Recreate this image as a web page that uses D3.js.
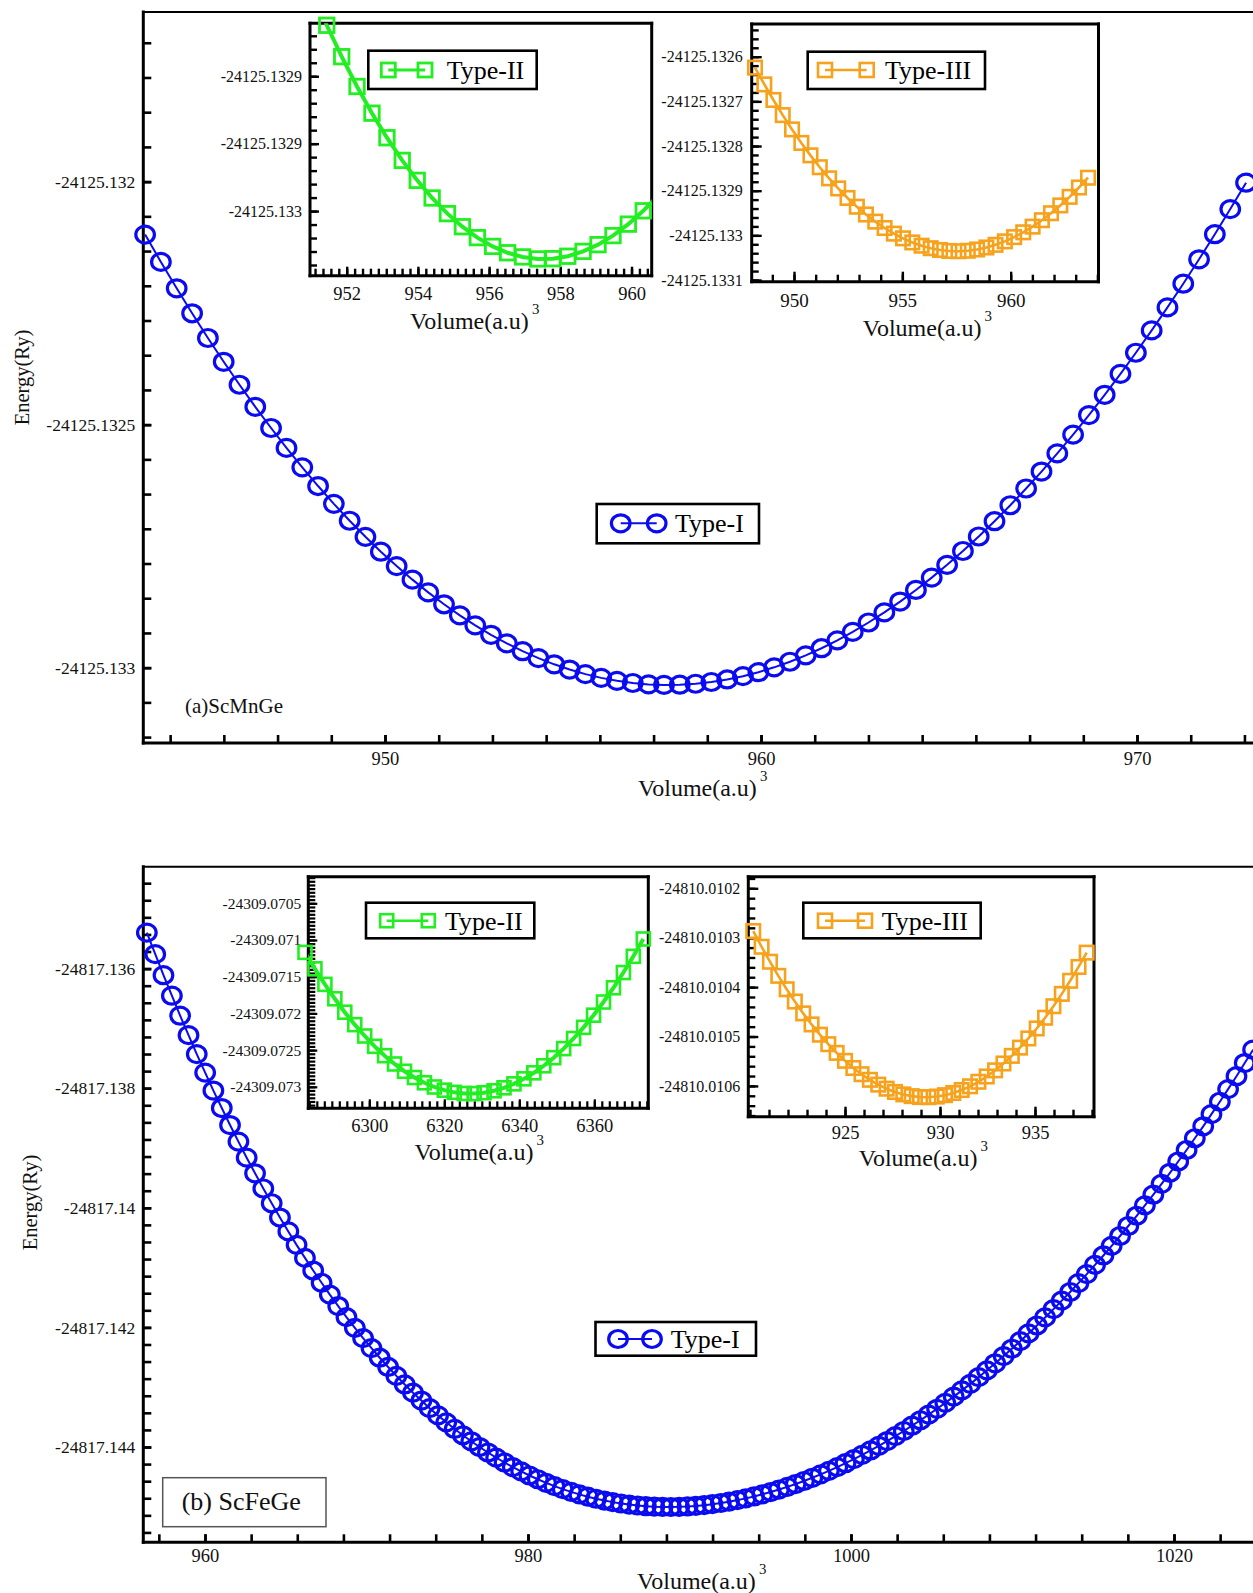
<!DOCTYPE html>
<html><head><meta charset="utf-8">
<script src="https://cdn.jsdelivr.net/npm/d3@7"></script>
<style>body{margin:0;background:#fff}svg{display:block}</style>
</head><body><svg id="c" width="1253" height="1593"></svg>
<script>
// ---------------- DATA ----------------
// (a) ScMnGe  main curve Type-I
const aTypeI_V = [943.62,944.04,944.46,944.87,945.29,945.71,946.13,946.55,946.97,947.38,947.80,948.22,948.64,949.06,949.48,949.89,950.31,950.73,951.15,951.57,951.99,952.40,952.82,953.24,953.66,954.08,954.50,954.91,955.33,955.75,956.17,956.59,957.01,957.42,957.84,958.26,958.68,959.10,959.52,959.93,960.35,960.77,961.19,961.61,962.03,962.44,962.86,963.28,963.70,964.12,964.54,964.95,965.37,965.79,966.21,966.63,967.05,967.46,967.88,968.30,968.72,969.14,969.56,969.97,970.39,970.81,971.23,971.65,972.07,972.48,972.90];
const aTypeI_E = [-24125.1321090,-24125.1321652,-24125.1322195,-24125.1322709,-24125.1323217,-24125.1323707,-24125.1324179,-24125.1324633,-24125.1325069,-24125.1325478,-24125.1325879,-24125.1326263,-24125.1326629,-24125.1326977,-24125.1327308,-24125.1327614,-24125.1327910,-24125.1328189,-24125.1328451,-24125.1328696,-24125.1328924,-24125.1329129,-24125.1329324,-24125.1329501,-24125.1329661,-24125.1329804,-24125.1329931,-24125.1330039,-24125.1330133,-24125.1330210,-24125.1330271,-24125.1330316,-24125.1330344,-24125.1330355,-24125.1330351,-24125.1330331,-24125.1330295,-24125.1330243,-24125.1330175,-24125.1330093,-24125.1329993,-24125.1329878,-24125.1329747,-24125.1329600,-24125.1329438,-24125.1329264,-24125.1329071,-24125.1328863,-24125.1328640,-24125.1328401,-24125.1328147,-24125.1327884,-24125.1327600,-24125.1327301,-24125.1326987,-24125.1326658,-24125.1326314,-24125.1325965,-24125.1325592,-24125.1325205,-24125.1324803,-24125.1324386,-24125.1323955,-24125.1323521,-24125.1323061,-24125.1322588,-24125.1322100,-24125.1321598,-24125.1321082,-24125.1320565,-24125.1320022];
// (a) inset Type-II
const aTypeII_V = [951.02,951.44,951.86,952.29,952.71,953.13,953.56,953.98,954.40,954.83,955.25,955.67,956.10,956.52,956.94,957.37,957.79,958.21,958.64,959.06,959.48,959.91,960.33,960.75];
const aTypeII_E = [-24125.1328372,-24125.1328622,-24125.1328855,-24125.1329076,-24125.1329274,-24125.1329456,-24125.1329624,-24125.1329772,-24125.1329903,-24125.1330019,-24125.1330116,-24125.1330197,-24125.1330262,-24125.1330309,-24125.1330340,-24125.1330355,-24125.1330353,-24125.1330335,-24125.1330299,-24125.1330249,-24125.1330182,-24125.1330097,-24125.1329998,-24125.1329884];
// (a) inset Type-III
const aTypeIII_V = [948.20,948.63,949.05,949.48,949.91,950.34,950.76,951.19,951.62,952.04,952.47,952.90,953.32,953.75,954.18,954.61,955.03,955.46,955.89,956.31,956.74,957.17,957.59,958.02,958.45,958.88,959.30,959.73,960.16,960.58,961.01,961.44,961.86,962.29,962.72,963.15,963.57];
const aTypeIII_E = [-24125.1326245,-24125.1326620,-24125.1326969,-24125.1327308,-24125.1327628,-24125.1327931,-24125.1328209,-24125.1328475,-24125.1328724,-24125.1328950,-24125.1329163,-24125.1329359,-24125.1329533,-24125.1329693,-24125.1329836,-24125.1329962,-24125.1330067,-24125.1330159,-24125.1330232,-24125.1330288,-24125.1330328,-24125.1330350,-24125.1330356,-24125.1330345,-24125.1330317,-24125.1330272,-24125.1330212,-24125.1330135,-24125.1330040,-24125.1329932,-24125.1329805,-24125.1329661,-24125.1329505,-24125.1329330,-24125.1329138,-24125.1328929,-24125.1328710];
// (b) ScFeGe main curve Type-I
const bTypeI_V = [956.40,956.92,957.43,957.95,958.46,958.98,959.49,960.01,960.52,961.04,961.55,962.07,962.58,963.10,963.61,964.13,964.64,965.16,965.67,966.19,966.70,967.22,967.73,968.25,968.76,969.28,969.79,970.31,970.82,971.34,971.85,972.37,972.88,973.40,973.91,974.43,974.94,975.46,975.97,976.49,977.00,977.52,978.03,978.55,979.06,979.58,980.09,980.61,981.12,981.64,982.15,982.67,983.18,983.70,984.21,984.73,985.24,985.76,986.27,986.79,987.30,987.82,988.33,988.85,989.36,989.88,990.39,990.91,991.42,991.94,992.45,992.97,993.48,994.00,994.51,995.03,995.54,996.06,996.57,997.09,997.60,998.12,998.63,999.15,999.66,1000.18,1000.69,1001.21,1001.72,1002.24,1002.75,1003.27,1003.78,1004.30,1004.81,1005.33,1005.84,1006.36,1006.87,1007.39,1007.90,1008.42,1008.93,1009.45,1009.96,1010.48,1010.99,1011.51,1012.02,1012.54,1013.05,1013.57,1014.08,1014.60,1015.11,1015.63,1016.14,1016.66,1017.17,1017.69,1018.20,1018.72,1019.23,1019.75,1020.26,1020.78,1021.29,1021.81,1022.32,1022.84,1023.35,1023.87,1024.38,1024.90];
const bTypeI_E = [-24817.1353977,-24817.1357586,-24817.1361104,-24817.1364531,-24817.1367875,-24817.1371130,-24817.1374302,-24817.1377389,-24817.1380394,-24817.1383318,-24817.1386164,-24817.1388930,-24817.1391619,-24817.1394232,-24817.1396771,-24817.1399235,-24817.1401627,-24817.1403947,-24817.1406197,-24817.1408378,-24817.1410491,-24817.1412537,-24817.1414517,-24817.1416432,-24817.1418283,-24817.1420072,-24817.1421798,-24817.1423464,-24817.1425070,-24817.1426617,-24817.1428106,-24817.1429538,-24817.1430914,-24817.1432234,-24817.1433501,-24817.1434714,-24817.1435874,-24817.1436982,-24817.1438040,-24817.1439048,-24817.1440006,-24817.1440916,-24817.1441778,-24817.1442592,-24817.1443361,-24817.1444084,-24817.1444762,-24817.1445396,-24817.1445986,-24817.1446533,-24817.1447039,-24817.1447502,-24817.1447925,-24817.1448307,-24817.1448650,-24817.1448953,-24817.1449218,-24817.1449445,-24817.1449634,-24817.1449785,-24817.1449901,-24817.1449980,-24817.1450023,-24817.1450032,-24817.1450005,-24817.1449945,-24817.1449850,-24817.1449722,-24817.1449560,-24817.1449366,-24817.1449139,-24817.1448880,-24817.1448589,-24817.1448267,-24817.1447913,-24817.1447529,-24817.1447114,-24817.1446668,-24817.1446192,-24817.1445686,-24817.1445150,-24817.1444584,-24817.1443989,-24817.1443364,-24817.1442711,-24817.1442027,-24817.1441316,-24817.1440575,-24817.1439805,-24817.1439006,-24817.1438180,-24817.1437323,-24817.1436439,-24817.1435525,-24817.1434583,-24817.1433612,-24817.1432612,-24817.1431583,-24817.1430526,-24817.1429439,-24817.1428323,-24817.1427178,-24817.1426004,-24817.1424800,-24817.1423566,-24817.1422303,-24817.1421008,-24817.1419685,-24817.1418330,-24817.1416945,-24817.1415528,-24817.1414080,-24817.1412601,-24817.1411090,-24817.1409546,-24817.1407970,-24817.1406361,-24817.1404718,-24817.1403042,-24817.1401332,-24817.1399588,-24817.1397808,-24817.1395995,-24817.1394144,-24817.1392258,-24817.1390332,-24817.1388371,-24817.1386374,-24817.1384341,-24817.1382265,-24817.1380152,-24817.1377994,-24817.1375797,-24817.1373561];
// (b) inset Type-II
const bTypeII_V = [6282.85,6285.50,6288.16,6290.81,6293.46,6296.12,6298.77,6301.42,6304.08,6306.73,6309.39,6312.04,6314.69,6317.35,6320.00,6322.65,6325.31,6327.96,6330.61,6333.27,6335.92,6338.57,6341.23,6343.88,6346.53,6349.19,6351.84,6354.49,6357.15,6359.80,6362.45,6365.11,6367.76,6370.41,6373.07];
const bTypeII_E = [-24309.0711686,-24309.0713930,-24309.0716044,-24309.0718009,-24309.0719836,-24309.0721530,-24309.0723079,-24309.0724487,-24309.0725762,-24309.0726892,-24309.0727887,-24309.0728738,-24309.0729451,-24309.0730026,-24309.0730460,-24309.0730755,-24309.0730911,-24309.0730927,-24309.0730804,-24309.0730540,-24309.0730138,-24309.0729597,-24309.0728915,-24309.0728095,-24309.0727136,-24309.0726034,-24309.0724797,-24309.0723420,-24309.0721899,-24309.0720244,-24309.0718449,-24309.0716508,-24309.0714435,-24309.0712224,-24309.0709863];
// (b) inset Type-III
const bTypeIII_V = [920.17,920.61,921.05,921.49,921.93,922.36,922.80,923.24,923.68,924.12,924.56,925.00,925.44,925.87,926.31,926.75,927.19,927.63,928.07,928.51,928.95,929.39,929.83,930.26,930.70,931.14,931.58,932.02,932.46,932.90,933.34,933.78,934.21,934.65,935.09,935.53,935.97,936.41,936.85,937.29,937.72];
const bTypeIII_E = [-24810.0102865,-24810.0103183,-24810.0103486,-24810.0103772,-24810.0104043,-24810.0104292,-24810.0104532,-24810.0104755,-24810.0104963,-24810.0105155,-24810.0105331,-24810.0105492,-24810.0105637,-24810.0105763,-24810.0105876,-24810.0105974,-24810.0106056,-24810.0106122,-24810.0106172,-24810.0106207,-24810.0106225,-24810.0106228,-24810.0106215,-24810.0106187,-24810.0106143,-24810.0106083,-24810.0106008,-24810.0105916,-24810.0105809,-24810.0105685,-24810.0105546,-24810.0105392,-24810.0105225,-24810.0105039,-24810.0104837,-24810.0104620,-24810.0104387,-24810.0104137,-24810.0103872,-24810.0103592,-24810.0103302];

// tick values and labels
const aMainXTicks = [950, 960, 970];
const aMainYTicks = [-24125.132, -24125.1325, -24125.133];
const aMainYLabels = ["-24125.132", "-24125.1325", "-24125.133"];
const aIn2XTicks = [952, 954, 956, 958, 960];
const aIn2YTicks = [-24125.1329, -24125.13295, -24125.133];
const aIn2YLabels = ["-24125.1329", "-24125.1329", "-24125.133"];
const aIn3XTicks = [950, 955, 960];
const aIn3YTicks = [-24125.1326, -24125.1327, -24125.1328, -24125.1329, -24125.133, -24125.1331];
const aIn3YLabels = ["-24125.1326", "-24125.1327", "-24125.1328", "-24125.1329", "-24125.133", "-24125.1331"];
const bMainXTicks = [960, 980, 1000, 1020];
const bMainYTicks = [-24817.136, -24817.138, -24817.14, -24817.142, -24817.144];
const bMainYLabels = ["-24817.136", "-24817.138", "-24817.14", "-24817.142", "-24817.144"];
const bIn2XTicks = [6300, 6320, 6340, 6360];
const bIn2YTicks = [-24309.0705, -24309.071, -24309.0715, -24309.072, -24309.0725, -24309.073];
const bIn2YLabels = ["-24309.0705", "-24309.071", "-24309.0715", "-24309.072", "-24309.0725", "-24309.073"];
const bIn3XTicks = [925, 930, 935];
const bIn3YTicks = [-24810.0102, -24810.0103, -24810.0104, -24810.0105, -24810.0106];
const bIn3YLabels = ["-24810.0102", "-24810.0103", "-24810.0104", "-24810.0105", "-24810.0106"];

// ---------------- DRAWING ----------------
const FONT = '"Liberation Serif","Times New Roman",serif';
const BLUE = "#0b0bf2", GREEN = "#22ee22", ORANGE = "#f6a21c";
const svg = d3.select("#c");
let clipId = 0;

function minorVals(major, sub, dom) {
  const step = (major[1] - major[0]) / sub;
  const lo = Math.min(dom[0], dom[1]), hi = Math.max(dom[0], dom[1]);
  const out = [];
  for (let k = -400; k <= 400; k++) {
    const v = major[0] + k * step;
    if (v >= lo - 1e-12 && v <= hi + 1e-12) out.push(v);
  }
  return out;
}

function panel(p) {
  const g = svg.append("g");
  const x = d3.scaleLinear().domain(p.xDom).range([p.left, p.right]);
  const y = d3.scaleLinear().domain(p.yDom).range([p.bottom, p.top]);
  if (p.bg) g.append("rect").attr("x", p.left).attr("y", p.top)
    .attr("width", p.right - p.left).attr("height", p.bottom - p.top).attr("fill", "#fff");
  const styleAxis = (sel, fs) => {
    sel.select(".domain").remove();
    sel.selectAll("line").attr("stroke", "#000").attr("stroke-width", p.tickW);
    sel.selectAll("text").attr("font-family", FONT).attr("font-size", fs).attr("fill", "#111");
  };
  g.append("g").attr("transform", `translate(0,${p.bottom})`)
    .call(d3.axisBottom(x).tickValues(minorVals(p.xMajor, p.xSub, p.xDom)).tickSize(-p.minorLen).tickSizeOuter(0).tickFormat(""))
    .call(s => styleAxis(s, 0));
  g.append("g").attr("transform", `translate(${p.left},0)`)
    .call(d3.axisLeft(y).tickValues(minorVals(p.yMajor, p.ySub, p.yDom)).tickSize(-p.minorLen).tickSizeOuter(0).tickFormat(""))
    .call(s => styleAxis(s, 0));
  g.append("g").attr("transform", `translate(0,${p.bottom})`)
    .call(d3.axisBottom(x).tickValues(p.xMajor).tickSize(-p.majorLen).tickSizeOuter(0).tickPadding(p.xPad)
      .tickFormat((d, i) => p.xLabels ? p.xLabels[i] : String(d)))
    .call(s => styleAxis(s, p.xFs));
  g.append("g").attr("transform", `translate(${p.left},0)`)
    .call(d3.axisLeft(y).tickValues(p.yMajor).tickSize(-p.majorLen).tickSizeOuter(0).tickPadding(p.yPad)
      .tickFormat((d, i) => p.yLabels[i]))
    .call(s => styleAxis(s, p.yFs));
  const fr = g.append("g").attr("stroke", "#000").attr("fill", "none").attr("stroke-linecap", "square");
  fr.append("line").attr("x1", p.left).attr("x2", p.left).attr("y1", p.top).attr("y2", p.bottom).attr("stroke-width", p.frameW);
  fr.append("line").attr("x1", p.left).attr("x2", p.right).attr("y1", p.bottom).attr("y2", p.bottom).attr("stroke-width", p.frameW);
  fr.append("line").attr("x1", p.left).attr("x2", p.right).attr("y1", p.top).attr("y2", p.top).attr("stroke-width", p.topW);
  if (p.rightW) fr.append("line").attr("x1", p.right).attr("x2", p.right).attr("y1", p.top).attr("y2", p.bottom).attr("stroke-width", p.rightW);
  const cid = "clip" + (clipId++);
  svg.append("defs").append("clipPath").attr("id", cid).append("rect")
    .attr("x", p.left).attr("y", p.top).attr("width", p.right - p.left).attr("height", p.bottom - p.top);
  p.g = g; p.x = x; p.y = y; p.clip = cid;
  return p;
}

function series(p, V, E, s) {
  const pts = d3.range(Math.min(V.length, E.length)).map(i => [p.x(V[i]), p.y(E[i])]);
  p.g.append("path").attr("clip-path", `url(#${p.clip})`)
    .attr("d", d3.line()(pts)).attr("fill", "none").attr("stroke", s.color).attr("stroke-width", s.lineW);
  const vis = pts.filter(q => q[0] >= p.left - 6 && q[0] <= p.right + 3 && q[1] >= p.top - 3 && q[1] <= p.bottom + 3);
  if (s.shape === "circle") {
    p.g.selectAll(null).data(vis).enter().append("ellipse")
      .attr("cx", d => d[0]).attr("cy", d => d[1]).attr("rx", s.rx).attr("ry", s.ry)
      .attr("fill", "none").attr("stroke", s.color).attr("stroke-width", s.mW);
  } else {
    p.g.selectAll(null).data(vis).enter().append("rect")
      .attr("x", d => d[0] - s.size / 2).attr("y", d => d[1] - s.size / 2).attr("width", s.size).attr("height", s.size)
      .attr("fill", "none").attr("stroke", s.color).attr("stroke-width", s.mW);
  }
}

function legend(b, s, sx, cy, tx, label, fs) {
  const g = svg.append("g");
  g.append("rect").attr("x", b[0]).attr("y", b[1]).attr("width", b[2] - b[0]).attr("height", b[3] - b[1])
    .attr("fill", "#fff").attr("stroke", "#000").attr("stroke-width", 2.6);
  g.append("line").attr("x1", sx[0]).attr("x2", sx[1]).attr("y1", cy).attr("y2", cy)
    .attr("stroke", s.color).attr("stroke-width", s.legLineW || s.lineW);
  sx.forEach(cx => {
    if (s.shape === "circle") g.append("ellipse").attr("cx", cx).attr("cy", cy).attr("rx", s.rx).attr("ry", s.ry)
      .attr("fill", "none").attr("stroke", s.color).attr("stroke-width", s.mW);
    else g.append("rect").attr("x", cx - s.lsize / 2).attr("y", cy - s.lsize / 2).attr("width", s.lsize).attr("height", s.lsize)
      .attr("fill", "none").attr("stroke", s.color).attr("stroke-width", s.mW);
  });
  g.append("text").attr("x", tx).attr("y", cy + fs * 0.34).attr("font-family", FONT).attr("font-size", fs)
    .attr("fill", "#000").text(label);
}

function volTitle(x0, base, fs) {
  const t = svg.append("text").attr("x", x0).attr("y", base).attr("font-family", FONT).attr("font-size", fs).attr("fill", "#111");
  t.append("tspan").text("Volume(a.u)");
  t.append("tspan").attr("dx", 3).attr("dy", -fs * 0.62).attr("font-size", fs * 0.62).text("3");
}
function energyTitle(cx, cy, fs) {
  svg.append("text").attr("transform", `translate(${cx},${cy}) rotate(-90)`).attr("text-anchor", "middle")
    .attr("dominant-baseline", "central").attr("font-family", FONT).attr("font-size", fs).attr("fill", "#111").text("Energy(Ry)");
}

const sBlue = {shape: "circle", color: BLUE, lineW: 2, rx: 9.3, ry: 8.5, mW: 3.2};
const sGreenA = {shape: "square", color: GREEN, lineW: 4, size: 14.5, lsize: 14, mW: 2.8, legLineW: 3};
const sOrangeA = {shape: "square", color: ORANGE, lineW: 2.6, size: 13.5, lsize: 14, mW: 2.6};
const sGreenB = {shape: "square", color: GREEN, lineW: 4, size: 13, lsize: 13, mW: 2.6, legLineW: 2.5};
const sOrangeB = {shape: "square", color: ORANGE, lineW: 2.6, size: 13.5, lsize: 14, mW: 2.6};

// ===== (a) ScMnGe =====
const pa = panel({left: 143.3, right: 1257, top: 12, bottom: 743,
  xDom: [943.572, 973.191], yDom: [-24125.133155, -24125.131651],
  xMajor: aMainXTicks, xSub: 7, yMajor: aMainYTicks, yLabels: aMainYLabels, ySub: 7,
  majorLen: 8, minorLen: 8, tickW: 2.6, frameW: 3, topW: 2, xPad: 9, yPad: 8, xFs: 18.5, yFs: 17.5});
series(pa, aTypeI_V, aTypeI_E, sBlue);
svg.append("text").attr("x", 185).attr("y", 713).attr("font-family", FONT).attr("font-size", 21).attr("fill", "#111").text("(a)ScMnGe");
volTitle(638, 796, 24);
energyTitle(21.7, 377.5, 20.5);
legend([596.7, 504, 759, 543.3], sBlue, [620.7, 656.7], 523.3, 675, "Type-I", 26);

const pa2 = panel({left: 310, right: 651.7, top: 23.3, bottom: 275.7, bg: true,
  xDom: [950.969, 960.567], yDom: [-24125.13304793, -24125.13286074],
  xMajor: aIn2XTicks, xSub: 9, yMajor: aIn2YTicks, yLabels: aIn2YLabels, ySub: 5,
  majorLen: 9, minorLen: 7, tickW: 2.4, frameW: 3, topW: 3, rightW: 3, xPad: 11, yPad: 8, xFs: 18.5, yFs: 16});
series(pa2, aTypeII_V, aTypeII_E, sGreenA);
legend([368.3, 50.7, 536.7, 89], sGreenA, [388.3, 425], 70, 446.7, "Type-II", 26);
volTitle(410, 329, 24);

const pa3 = panel({left: 751.7, right: 1098.5, top: 24, bottom: 281.7, bg: true,
  xDom: [948.048, 964.052], yDom: [-24125.1331038, -24125.1325268],
  xMajor: aIn3XTicks, xSub: 5, yMajor: aIn3YTicks, yLabels: aIn3YLabels, ySub: 5,
  majorLen: 10, minorLen: 7, tickW: 2.4, frameW: 3, topW: 3, rightW: 3, xPad: 12, yPad: 9, xFs: 19, yFs: 16});
series(pa3, aTypeIII_V, aTypeIII_E, sOrangeA);
legend([807.7, 51.7, 985, 89], sOrangeA, [825, 866.7], 70, 885, "Type-III", 26);
volTitle(862.7, 336, 24);

// ===== (b) ScFeGe =====
const pb = panel({left: 143.3, right: 1257, top: 866.8, bottom: 1542.3,
  xDom: [956.18, 1025.14], yDom: [-24817.1455936, -24817.1342977],
  xMajor: bMainXTicks, xSub: 7, yMajor: bMainYTicks, yLabels: bMainYLabels, ySub: 7,
  majorLen: 8, minorLen: 8, tickW: 2.6, frameW: 3, topW: 2, xPad: 7, yPad: 8, xFs: 18.5, yFs: 17.5});
series(pb, bTypeI_V, bTypeI_E, sBlue);
svg.append("rect").attr("x", 162.7).attr("y", 1477.7).attr("width", 163.3).attr("height", 49)
  .attr("fill", "#fff").attr("stroke", "#555").attr("stroke-width", 1.5);
svg.append("text").attr("x", 181.7).attr("y", 1510).attr("font-family", FONT).attr("font-size", 26).attr("fill", "#111").text("(b) ScFeGe");
volTitle(637, 1589, 24);
energyTitle(30, 1202.5, 20.5);
legend([595.5, 1322, 756, 1355.7], sBlue, [618, 652], 1339, 670.7, "Type-I", 26);

const pb2 = panel({left: 308.3, right: 648.3, top: 876.7, bottom: 1108.3, bg: true,
  xDom: [6283.73, 6374.40], yDom: [-24309.0732929, -24309.0701376],
  xMajor: bIn2XTicks, xSub: 10, yMajor: bIn2YTicks, yLabels: bIn2YLabels, ySub: 10,
  majorLen: 9, minorLen: 7, tickW: 2.2, frameW: 3, topW: 3, rightW: 3, xPad: 11, yPad: 7, xFs: 18.5, yFs: 15.5});
series(pb2, bTypeII_V, bTypeII_E, sGreenB);
legend([366, 902.7, 534.3, 938.3], sGreenB, [386.7, 428.3], 920.7, 445, "Type-II", 26);
volTitle(414.6, 1160, 24);

const pb3 = panel({left: 748.3, right: 1094, top: 876.7, bottom: 1116.7, bg: true,
  xDom: [919.91, 938.105], yDom: [-24810.0106623, -24810.0101765],
  xMajor: bIn3XTicks, xSub: 5, yMajor: bIn3YTicks, yLabels: bIn3YLabels, ySub: 5,
  majorLen: 10, minorLen: 7, tickW: 2.4, frameW: 3, topW: 3, rightW: 3, xPad: 9, yPad: 8, xFs: 18.5, yFs: 16});
series(pb3, bTypeIII_V, bTypeIII_E, sOrangeB);
legend([803.3, 902.7, 980.7, 938.3], sOrangeB, [825, 865], 920.7, 881.7, "Type-III", 26);
volTitle(858.7, 1166, 24);
</script>
</body></html>
